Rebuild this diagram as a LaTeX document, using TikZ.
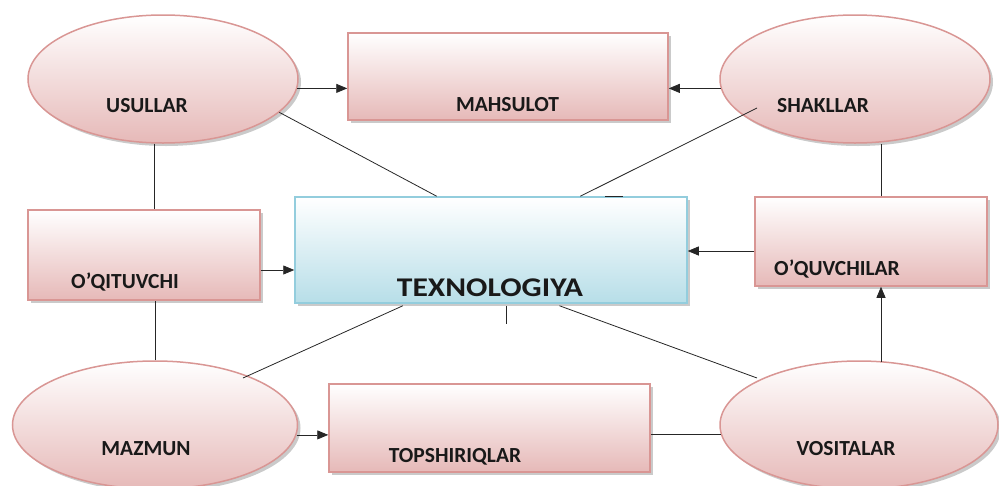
\documentclass[tikz,border=0pt]{standalone}
\usepackage{fontspec}
\setmainfont{Carlito}
\usetikzlibrary{shapes.geometric,arrows.meta,shadows,calc}
\definecolor{pinkb}{HTML}{D99694}
\definecolor{pinkf}{HTML}{E6B9B8}
\definecolor{blueb}{HTML}{93CDDD}
\definecolor{bluef}{HTML}{B7DEE8}
\tikzset{
  pinkshape/.style={draw=pinkb, line width=1.5pt, top color=white, bottom color=pinkf,
    drop shadow={shadow xshift=3pt,shadow yshift=-3pt,opacity=0.35,fill=black!60}, inner sep=0pt},
  oval/.style={pinkshape, ellipse},
  pbox/.style={pinkshape, rectangle},
  bbox/.style={draw=blueb, line width=1.5pt, top color=white, bottom color=bluef,
    drop shadow={shadow xshift=3pt,shadow yshift=-3pt,opacity=0.35,fill=black!60}, inner sep=0pt, rectangle},
  lbl/.style={font=\bfseries\fontsize{21.5}{24}\selectfont, anchor=base, inner sep=0pt, text=black!90},
  biglbl/.style={font=\bfseries\fontsize{27}{30}\selectfont, anchor=base, inner sep=0pt, text=black!90},
  link/.style={draw=black!85, line width=0.8pt},
  arr/.style={link, -{Triangle[length=11pt,width=9pt]}},
}
\begin{document}
\begin{tikzpicture}[x=1pt,y=-1pt]
\useasboundingbox (0,0) rectangle (999,485);
% shapes
\node[oval, minimum width=270pt, minimum height=128pt] (us) at (163,79) {};
\node[oval, minimum width=270pt, minimum height=128pt] (sh) at (855,79) {};
\node[oval, minimum width=285pt, minimum height=128pt] (mz) at (155,425) {};
\node[oval, minimum width=278pt, minimum height=128pt] (vs) at (859,425) {};
\node[pbox, minimum width=320pt, minimum height=87pt] (mh) at (508,76.5) {};
\node[pbox, minimum width=232pt, minimum height=90pt] (oq) at (144,255) {};
\node[pbox, minimum width=232pt, minimum height=89pt] (ou) at (871,241.5) {};
\node[pbox, minimum width=321pt, minimum height=88pt] (tp) at (489.5,428) {};
\node[bbox, minimum width=392pt, minimum height=106pt] (tx) at (491,250) {};
% labels
\node[lbl] (usl) at (147,112) {USULLAR};
\node[lbl] (shl) at (823,112) {SHAKLLAR};
\node[lbl] (mhl) at (507.5,111) {MAHSULOT};
\node[lbl] (oql) at (125,288) {O’QITUVCHI};
\node[lbl] (oul) at (837,275) {O’QUVCHILAR};
\node[lbl] (mzl) at (146,455) {MAZMUN};
\node[lbl] (tpl) at (455,462) {TOPSHIRIQLAR};
\node[lbl] (vsl) at (846,455) {VOSITALAR};
\node[biglbl] (txl) at (490,296) {\scalebox{1.17}[1]{TEXNOLOGIYA}};
% connectors
\draw[arr] (us.-4) -- (us.-4 -| mh.west);
\draw[arr] (sh.184) -- (sh.184 -| mh.east);
\draw[link] (us.262) -- (us.262 |- oq.north);
\draw[link] (mz.north) -- (mz.north |- oq.south);
\draw[link] (us.-16) -- ($(tx.north west)!0.362!(tx.north east)$);
\draw[link] ($(sh.center)+(-98,29)$) -- ($(tx.north west)!0.727!(tx.north east)$);
\draw[link] ($(tx.north west)!0.79!(tx.north east)$) -- ($(tx.north west)!0.835!(tx.north east)$);
\draw[link] ($(tx.south west)!0.538!(tx.south east)+(0,2)$) coordinate (st) -- ($(st)+(0,18)$);
\draw[link] ($(tx.south west)!0.276!(tx.south east)+(0,2)$) -- ($(mz.center)+(88,-47)$);
\draw[link] ($(tx.south west)!0.674!(tx.south east)+(0,2)$) -- ($(vs.center)+(-102,-47)$);
\draw[arr] ($(oq.east)+(0,15)$) coordinate (a1) -- (a1 -| tx.west);
\draw[arr] ($(ou.west)+(0,9.5)$) coordinate (a2) -- (a2 -| tx.east);
\draw[link] ($(ou.north)+(10,0)$) coordinate (a3) -- (a3 |- sh.south);
\draw[arr] ($(ou.south)+(10,0)$) coordinate (a4) ++(0,75) -- (a4);
\draw[arr] (mz.-4) -- (mz.-4 -| tp.west);
\draw[link] (vs.184) -- (vs.184 -| tp.east);
\end{tikzpicture}
\end{document}
